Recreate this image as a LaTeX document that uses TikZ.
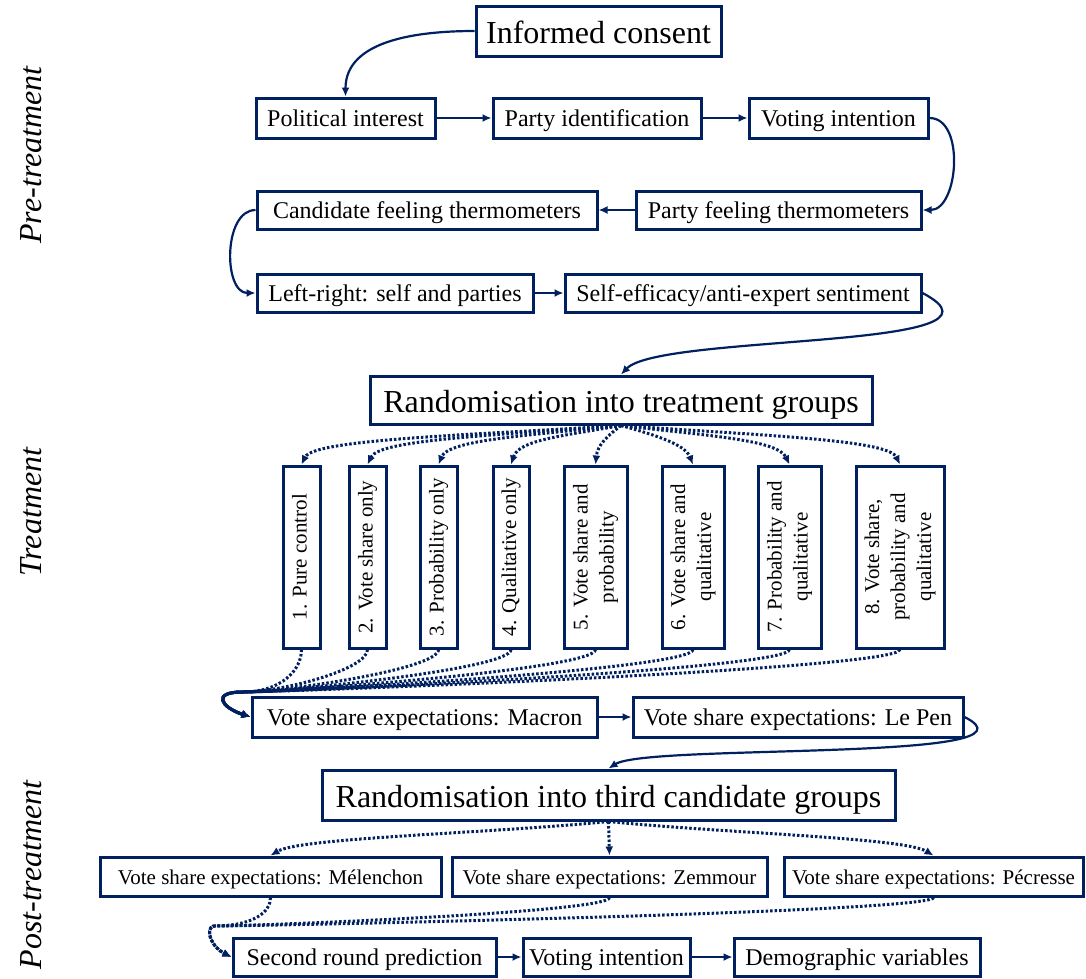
\documentclass[tikz,border=0pt]{standalone}
\usepackage{fontspec}
\usepackage{graphicx}
\setmainfont{Liberation Serif}
\usetikzlibrary{arrows.meta}
\definecolor{navy}{RGB}{0,32,96}
\newcommand{\vlabel}[1]{\rotatebox{90}{\begin{tabular}{@{}c@{}}#1\end{tabular}}}

\begin{document}
\begin{tikzpicture}[x=1pt, y=1pt,
    box/.style={draw=navy, line width=3pt, fill=white, inner sep=0pt, text height=17, text depth=1, font=\fontsize{24}{28}\selectfont},
    bigbox/.style={box, text height=25, text depth=0, font=\fontsize{32}{36}\selectfont},
    candbox/.style={box, minimum height=39, text height=15, text depth=0, font=\fontsize{21}{25}\selectfont},
    tbox/.style={box, minimum height=182, text height=, text depth=, font=\fontsize{21}{26}\selectfont},
    arr/.style={navy, line width=2.2pt, -{Latex[length=9pt,width=8pt]}},
    dotarr/.style={arr, line width=3pt, dash pattern=on 2.5pt off 2pt},
    phase/.style={rotate=90, font=\itshape\fontsize{32}{36}\selectfont}]
    \useasboundingbox (0,0) rectangle (1086,-978);
    % Phase labels
    \node[phase] (pre) at (31,-155) {Pre-treatment};
    \node[phase] (trt) at (31,-512) {Treatment};
    \node[phase] (post) at (31,-875) {Post-treatment};
    % Pre-treatment questions
    \node[bigbox, minimum width=245, minimum height=50] (ic) at (598.5,-31) {Informed consent};
    \node[box, minimum width=179, minimum height=40] (pi) at (345.5,-118) {Political interest};
    \node[box, minimum width=208, minimum height=40] (pid) at (597,-118) {Party identification};
    \node[box, minimum width=179, minimum height=40] (vi) at (838.5,-118) {Voting intention};
    \node[box, minimum width=340, minimum height=38] (cft) at (427,-210) {Candidate feeling thermometers};
    \node[box, minimum width=285, minimum height=38] (pft) at (778.5,-210) {Party feeling thermometers};
    \node[box, minimum width=276, minimum height=38] (lr) at (395,-293) {Left-right: self and parties};
    \node[box, minimum width=356, minimum height=38] (se) at (743,-293) {Self-efficacy/anti-expert sentiment};
    \draw[arr] (ic.west) to[out=180, in=90] (pi.north);
    \draw[arr] (pi) -- (pid);
    \draw[arr] (pid) -- (vi);
    \draw[arr] (vi.east) to[out=0, in=0] (pft.east);
    \draw[arr] (pft) -- (cft);
    \draw[arr] (cft.west) to[out=180, in=180] (lr.west);
    \draw[arr] (lr) -- (se);
    % Treatment groups
    \node[bigbox, minimum width=502, minimum height=48] (rnd) at (621,-400) {Randomisation into treatment groups};
    \draw[arr] (se.east) .. controls +(109,-57) and +(39,41) .. (rnd.north);
    \node[tbox, minimum width=37] (t1) at (301.5,-557) {\vlabel{1. Pure control}};
    \node[tbox, minimum width=37] (t2) at (367.5,-557) {\vlabel{2. Vote share only}};
    \node[tbox, minimum width=37] (t3) at (438.5,-557) {\vlabel{3. Probability only}};
    \node[tbox, minimum width=36] (t4) at (511,-557) {\vlabel{4. Qualitative only}};
    \node[tbox, minimum width=63] (t5) at (595.5,-557) {\vlabel{5. Vote share and\\probability}};
    \node[tbox, minimum width=62] (t6) at (693,-557) {\vlabel{6. Vote share and\\qualitative}};
    \node[tbox, minimum width=63] (t7) at (789.5,-557) {\vlabel{7. Probability and\\qualitative}};
    \node[tbox, minimum width=88] (t8) at (900,-557) {\vlabel{8. Vote share,\\probability and\\qualitative}};
    \draw[dotarr] (rnd.south) .. controls +(-160,-10) and +(12,25) .. (t1.north);
    \draw[dotarr] (rnd.south) .. controls +(-127,-10) and +(12,25) .. (t2.north);
    \draw[dotarr] (rnd.south) .. controls +(-91,-10) and +(10,25) .. (t3.north);
    \draw[dotarr] (rnd.south) .. controls +(-55,-10) and +(8,25) .. (t4.north);
    \draw[dotarr] (rnd.south) .. controls +(-13,-10) and +(2,20) .. (t5.north);
    \draw[dotarr] (rnd.south) .. controls +(36,-10) and +(-8,20) .. (t6.north);
    \draw[dotarr] (rnd.south) .. controls +(84,-10) and +(-12,25) .. (t7.north);
    \draw[dotarr] (rnd.south) .. controls +(140,-10) and +(-12,25) .. (t8.north);
    % Vote share expectations for the two main candidates
    \node[box, minimum width=345, minimum height=40] (mac) at (424.5,-717) {Vote share expectations: Macron};
    \node[box, minimum width=330, minimum height=40] (lp) at (798,-717) {Vote share expectations: Le Pen};
    \coordinate (mj) at (242,-692);
    \draw[dotarr] (t1.south) .. controls +(0,-20) and +(40,0) .. (mj) .. controls +(-30,0) and +(-30,10) .. (mac.west);
    \draw[dotarr] (t2.south) .. controls +(0,-20) and +(40,0) .. (mj) .. controls +(-30,0) and +(-30,10) .. (mac.west);
    \draw[dotarr] (t3.south) .. controls +(0,-20) and +(40,0) .. (mj) .. controls +(-30,0) and +(-30,10) .. (mac.west);
    \draw[dotarr] (t4.south) .. controls +(0,-20) and +(40,0) .. (mj) .. controls +(-30,0) and +(-30,10) .. (mac.west);
    \draw[dotarr] (t5.south) .. controls +(0,-20) and +(40,0) .. (mj) .. controls +(-30,0) and +(-30,10) .. (mac.west);
    \draw[dotarr] (t6.south) .. controls +(0,-20) and +(40,0) .. (mj) .. controls +(-30,0) and +(-30,10) .. (mac.west);
    \draw[dotarr] (t7.south) .. controls +(0,-20) and +(40,0) .. (mj) .. controls +(-30,0) and +(-30,10) .. (mac.west);
    \draw[dotarr] (t8.south) .. controls +(0,-20) and +(40,0) .. (mj) .. controls +(-30,0) and +(-30,10) .. (mac.west);
    \draw[arr] (mac) -- (lp);
    % Post-treatment
    \node[bigbox, minimum width=573, minimum height=50] (rnd2) at (608.5,-795) {Randomisation into third candidate groups};
    \draw[arr] (lp.east) .. controls +(90,-45) and +(39,25) .. (rnd2.north);
    \node[candbox, minimum width=341] (mel) at (270.5,-876.5) {Vote share expectations: Mélenchon};
    \node[candbox, minimum width=315] (zem) at (609.5,-876.5) {Vote share expectations: Zemmour};
    \node[candbox, minimum width=299] (pec) at (933.5,-876.5) {Vote share expectations: Pécresse};
    \draw[dotarr] (rnd2.south) .. controls +(-120,-12) and +(30,18) .. (mel.north);
    \draw[dotarr] (rnd2.south) -- (zem.north);
    \draw[dotarr] (rnd2.south) .. controls +(120,-12) and +(-30,18) .. (pec.north);
    \node[box, minimum width=263, minimum height=38] (sr) at (364.5,-957) {Second round prediction};
    \node[box, minimum width=167, minimum height=38] (vi2) at (606.5,-957) {Voting intention};
    \node[box, minimum width=246, minimum height=38] (dv) at (857,-957) {Demographic variables};
    \coordinate (mk) at (213,-926);
    \draw[dotarr] (mel.south) .. controls +(0,-15) and +(40,0) .. (mk) .. controls +(-8,-4) and +(-20,10) .. (sr.west);
    \draw[dotarr] (zem.south) .. controls +(0,-15) and +(40,0) .. (mk) .. controls +(-8,-4) and +(-20,10) .. (sr.west);
    \draw[dotarr] (pec.south) .. controls +(0,-15) and +(40,0) .. (mk) .. controls +(-8,-4) and +(-20,10) .. (sr.west);
    \draw[arr] (sr) -- (vi2);
    \draw[arr] (vi2) -- (dv);
\end{tikzpicture}
\end{document}
